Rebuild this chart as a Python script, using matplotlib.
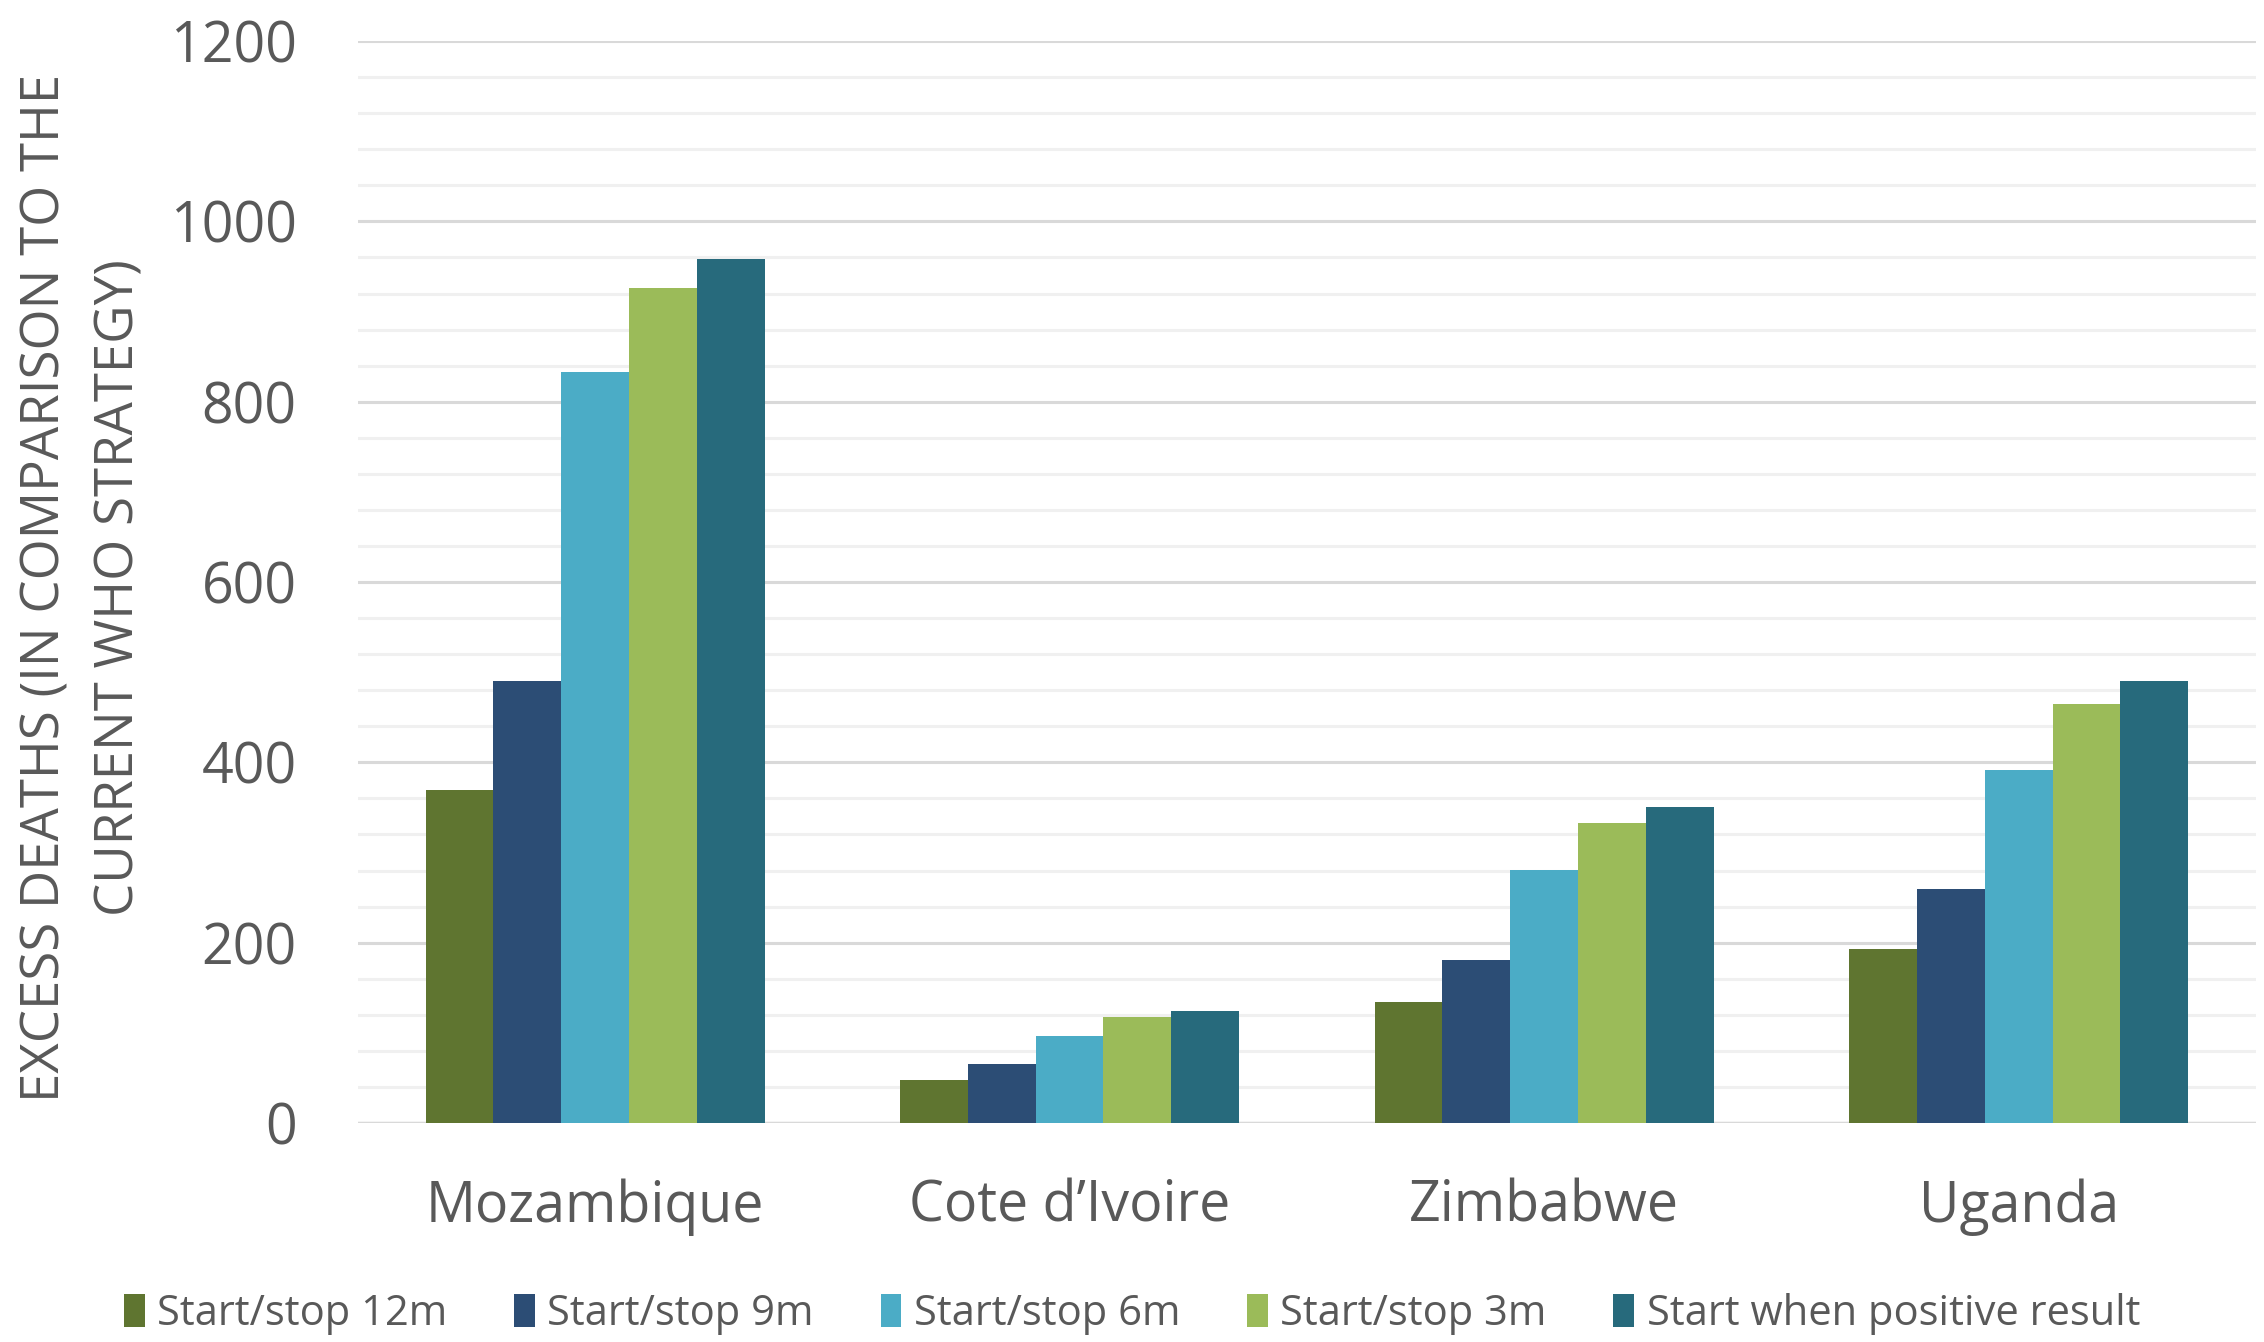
import matplotlib
matplotlib.use("Agg")
import matplotlib.pyplot as plt
import numpy as np
from matplotlib.ticker import MultipleLocator
from matplotlib.patches import Patch

countries = ["Mozambique", "Cote d\u2019Ivoire", "Zimbabwe", "Uganda"]
series_names = ["Start/stop 12m", "Start/stop 9m", "Start/stop 6m",
                "Start/stop 3m", "Start when positive result"]
start_stop_12m = [369, 48, 134, 193]
start_stop_9m = [490, 65, 181, 259]
start_stop_6m = [833, 97, 281, 392]
start_stop_3m = [926, 118, 333, 465]
start_positive = [958, 124, 351, 490]
series_values = [start_stop_12m, start_stop_9m, start_stop_6m,
                 start_stop_3m, start_positive]
colors = ["#5F7530", "#2C4D75", "#4BACC6", "#9BBB59", "#276A7C"]
y_ticks = [0, 200, 400, 600, 800, 1000, 1200]

plt.rcParams['font.family'] = ['Open Sans', 'DejaVu Sans']
text_color = "#595959"

fig = plt.figure(figsize=(22.64, 13.42), dpi=100)
ax = fig.add_axes([0.158, 0.1632, 0.8385, 0.8062])

x = np.arange(len(countries))
n = len(series_values)
group_w = 1 / 1.4
bw = group_w / n
for i, (vals, col, name) in enumerate(zip(series_values, colors, series_names)):
    ax.bar(x - group_w / 2 + bw * (i + 0.5), vals, width=bw, color=col,
           label=name, zorder=3, linewidth=0)

ax.set_xlim(-0.5, len(countries) - 0.5)
ax.set_ylim(0, 1200)
ax.set_yticks(y_ticks)
ax.yaxis.set_minor_locator(MultipleLocator(40))
ax.grid(axis='y', which='major', color='#D9D9D9', linewidth=2.2, zorder=0)
ax.grid(axis='y', which='minor', color='#F0F0F0', linewidth=2.2, zorder=0)
ax.set_xticks(x)
ax.set_xticklabels(countries)
for s in ax.spines.values():
    s.set_visible(False)
ax.tick_params(axis='both', which='both', length=0, labelsize=40,
               labelcolor=text_color)
ax.tick_params(axis='y', pad=44)
ax.tick_params(axis='x', pad=40)
ax.axhline(0, color='#D9D9D9', linewidth=2.5, zorder=2)

fig.text(0.0367, 0.562, "EXCESS DEATHS (IN COMPARISON TO THE\nCURRENT WHO STRATEGY)",
         rotation=90, ha='center', va='center', fontsize=38, color=text_color,
         linespacing=1.5, multialignment='center')

handles = [Patch(facecolor=c, label=nm) for c, nm in zip(colors, series_names)]
fig.legend(handles=handles, loc='center', bbox_to_anchor=(0.5, 0.021), ncol=5,
           frameon=False, fontsize=30, labelcolor=text_color,
           handlelength=0.5, handleheight=0.85, handletextpad=0.3,
           columnspacing=1.6)

fig.savefig("out.png", dpi=100, facecolor='white')
